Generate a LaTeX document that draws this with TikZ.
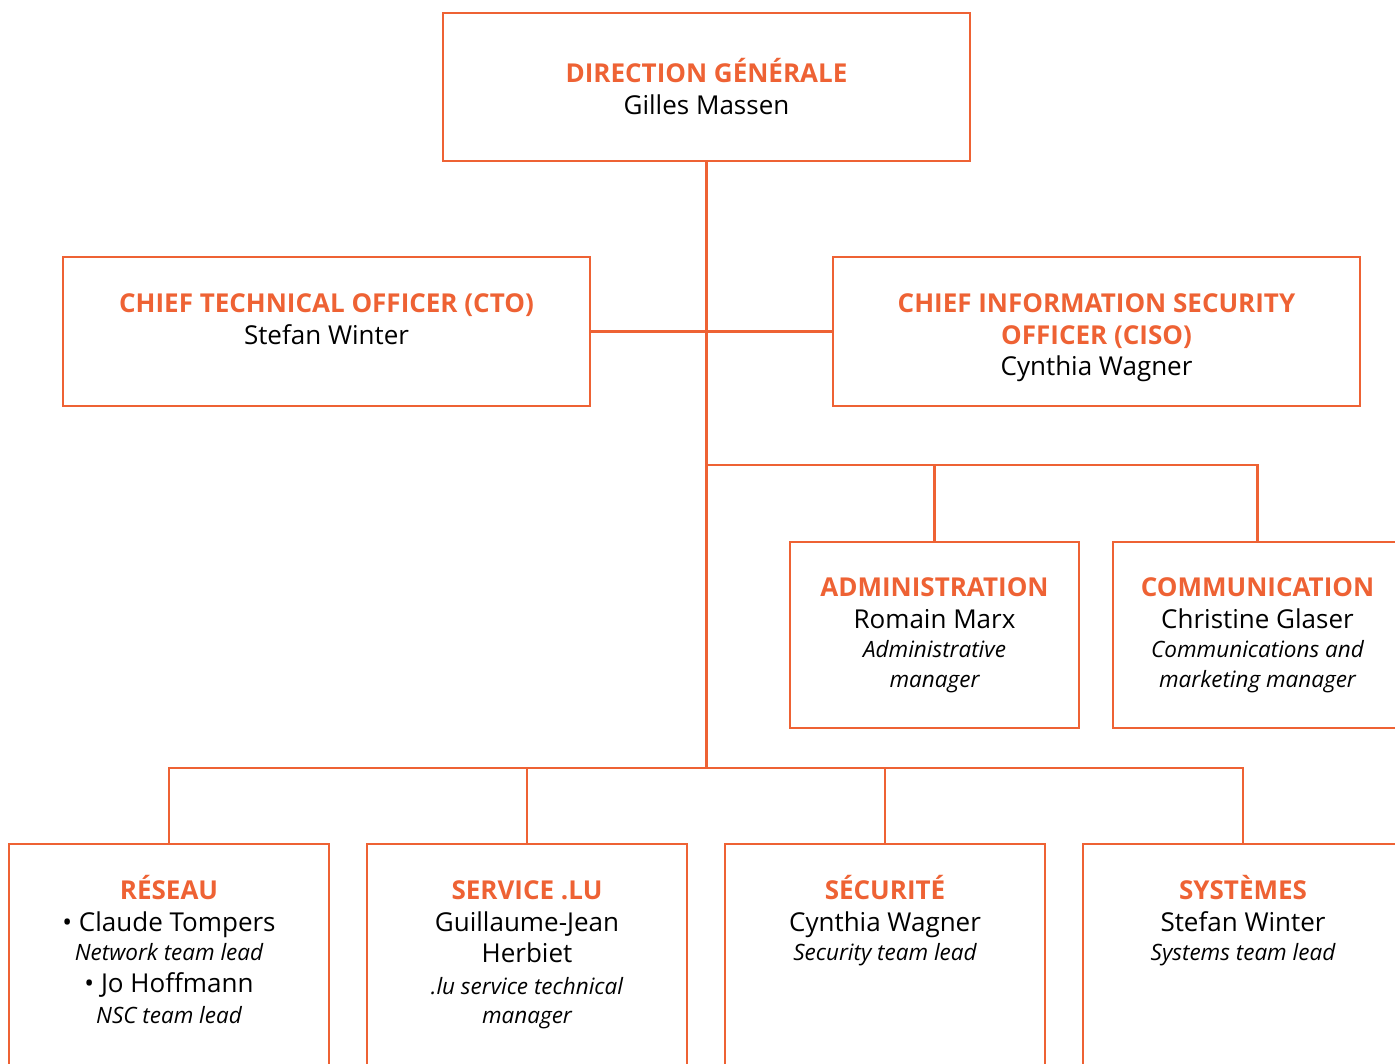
\documentclass[tikz,border=0pt]{standalone}
\usepackage{fontspec}
\setmainfont{Open Sans}
\usetikzlibrary{positioning}

\definecolor{orga}{RGB}{238,98,52}
\newcommand{\head}[1]{{\fontsize{26}{32}\selectfont\bfseries\color{orga}\rule{0pt}{26pt}#1}}
\newcommand{\who}[1]{{\fontsize{26}{32}\selectfont #1}}
\newcommand{\role}[1]{{\fontsize{22.5}{30}\selectfont\itshape #1}}

\begin{document}
\begin{tikzpicture}[x=1pt, y=-1pt,
    box/.style={draw=orga, line width=2.5pt, inner sep=0pt},
    line/.style={draw=orga, line width=2.5pt},
    txt/.style={align=center, anchor=north, inner sep=0pt, font=\fontsize{24}{31.5}\selectfont}]
    \useasboundingbox (0,0) rectangle (1395,1063);
    \clip (0,0) rectangle (1395,1063);

    % boxes
    \node[box, minimum width=527, minimum height=148] (dg) at (706.5,87) {};
    \node[box, minimum width=527, minimum height=149] (cto) at (326.5,331.5) {};
    \node[box, minimum width=527, minimum height=149] (ciso) at (1096.5,331.5) {};
    \node[box, minimum width=289, minimum height=186] (adm) at (934.5,635) {};
    \node[box, minimum width=289, minimum height=186] (com) at (1257.5,635) {};
    \node[box, minimum width=320, minimum height=260] (res) at (169,974) {};
    \node[box, minimum width=320, minimum height=260] (lu) at (527,974) {};
    \node[box, minimum width=320, minimum height=260] (sec) at (885,974) {};
    \node[box, minimum width=320, minimum height=260] (sys) at (1243,974) {};

    % texts
    \node[txt, below=45pt of dg.north] {\head{DIRECTION GÉNÉRALE}\\ \who{Gilles Massen}};
    \node[txt, below=31pt of cto.north] {\head{CHIEF TECHNICAL OFFICER (CTO)}\\ \who{Stefan Winter}};
    \node[txt, below=31pt of ciso.north] {\head{CHIEF INFORMATION SECURITY}\\ \head{OFFICER (CISO)}\\ \who{Cynthia Wagner}};
    \node[txt, below=30pt of adm.north] {\head{ADMINISTRATION}\\ \who{Romain Marx}\\[-2pt] \role{Administrative}\\[-2pt] \role{manager}};
    \node[txt, below=30pt of com.north] {\head{COMMUNICATION}\\ \who{Christine Glaser}\\[-2pt] \role{Communications and}\\[-2pt] \role{marketing manager}};
    \node[txt, below=31pt of res.north] {\head{RÉSEAU}\\ \who{• Claude Tompers}\\[-2pt] \role{Network team lead}\\ \who{• Jo Hoffmann}\\ \role{NSC team lead}};
    \node[txt, below=31pt of lu.north] {\head{SERVICE .LU}\\ \who{Guillaume-Jean}\\ \who{Herbiet}\\ \role{.lu service technical}\\[-2pt] \role{manager}};
    \node[txt, below=31pt of sec.north] {\head{SÉCURITÉ}\\ \who{Cynthia Wagner}\\[-2pt] \role{Security team lead}};
    \node[txt, below=31pt of sys.north] {\head{SYSTÈMES}\\ \who{Stefan Winter}\\[-2pt] \role{Systems team lead}};

    % junctions
    \coordinate (j1) at (706.5,465);
    \coordinate (j2) at (706.5,768);

    % connectors
    \draw[line] (dg.south) -- (j2);
    \draw[line] (cto.east) -- (ciso.west);
    \draw[line] (j1) -| (adm.north);
    \draw[line] (j1) -| (com.north);
    \draw[line] (j2) -| (res.north);
    \draw[line] (j2) -| (lu.north);
    \draw[line] (j2) -| (sec.north);
    \draw[line] (j2) -| (sys.north);
\end{tikzpicture}
\end{document}
